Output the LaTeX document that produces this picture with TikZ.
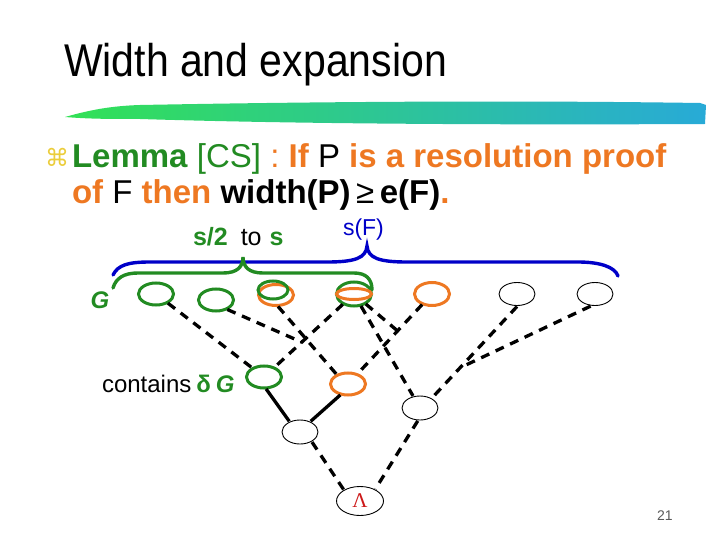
\documentclass[tikz,border=0pt]{standalone}
\usepackage{fontspec}
\setmainfont{Liberation Sans}
\newfontfamily\djv{DejaVu Sans}
\newfontfamily\lserif{Liberation Serif}
\usepackage{graphicx}
\usetikzlibrary{shapes.geometric,calc}
\definecolor{cg}{RGB}{34,139,34}
\definecolor{co}{RGB}{238,120,34}
\definecolor{cb}{RGB}{0,0,200}
\definecolor{cy}{RGB}{235,205,60}
\definecolor{cr}{RGB}{205,25,25}
\definecolor{bga}{RGB}{50,225,85}
\definecolor{bgb}{RGB}{30,205,170}
\definecolor{bgc}{RGB}{40,170,215}
\begin{document}
\begin{tikzpicture}[x=1pt,y=-1pt,
  ell/.style={ellipse, inner sep=0pt, outer sep=1pt},
  gE/.style={ell, draw=cg, line width=3pt, minimum width=35pt, minimum height=22pt},
  oE/.style={ell, draw=co, line width=3pt, minimum width=35pt, minimum height=22pt},
  kE/.style={ell, draw=black, line width=0.9pt, fill=white, minimum width=36pt, minimum height=24pt},
  dl/.style={line width=3.3pt, dash pattern=on 9pt off 7pt},
  sl/.style={line width=3.3pt},
  txt/.style={inner sep=0pt, outer sep=0pt, anchor=base west},
  brace/.style={line width=3.4pt, line cap=round}
]
\useasboundingbox (0,0) rectangle (720,540);

% title and brush stroke
\node[txt] (title) at (64,77) {\scalebox{1}[1.12]{\fontsize{41}{48}\selectfont Width and expansion}};
\shade[left color=bga, middle color=bgb, right color=bgc]
  (65,117) .. controls (90,110) and (110,106) .. (140,105)
  .. controls (300,102) and (500,100) .. (700,103) -- (706,105) -- (705,124)
  .. controls (500,125) and (300,124) .. (140,119)
  .. controls (110,119) and (90,119) .. (65,117) -- cycle;

% lemma text
\node[txt] (bul) at (45,167) {\djv\fontsize{24}{28}\selectfont\color{cy}⌘};
\node[txt] (l1) at (72,168) {\fontsize{33}{40}\selectfont{\color{cg}\textbf{Lemma} [CS]} {\color{co}: \textbf{If}} P {\color{co}\textbf{is a resolution proof}}};
\node[txt] (l2) at (72,204) {\fontsize{33}{40}\selectfont{\color{co}\textbf{of}} F {\color{co}\textbf{then}} \textbf{width(P)}\,≥\,\textbf{e(F)}{\color{co}\textbf{.}}};

% labels
\node[txt] (s2) at (193,245) {\fontsize{25}{28}\selectfont{\color{cg}\textbf{s/2}}\hspace{13pt}to\hspace{8pt}{\color{cg}\textbf{s}}};
\node[txt] (sf) at (343,236) {\fontsize{23}{27}\selectfont\color{cb}s(F)};
\node[inner sep=0pt] (G) at (100,300) {\fontsize{24}{28}\selectfont\color{cg}\textbf{\textit{G}}};
\node[txt] (ct) at (102,392) {\fontsize{24}{28}\selectfont contains\hspace{5pt}{\color{cg}\textbf{δ}\hspace{5pt}\textbf{\textit{G}}}};
\node[txt] (pg) at (657,520) {\fontsize{14}{16}\selectfont\color[gray]{0.35}21};

% braces
\draw[brace, cb] (113,275) .. controls (118,265) and (128,262) .. (150,262) -- (327,262)
  .. controls (355,262) and (366,258) .. (367,246)
  .. controls (368,258) and (379,262) .. (407,262) -- (578,262)
  .. controls (600,262) and (615,267) .. (618,276);
\draw[brace, cg] (113,288) .. controls (116,278) and (124,273) .. (138,273) -- (223,273)
  .. controls (237,273) and (243,267) .. (243,257)
  .. controls (243,267) and (249,273) .. (263,273) -- (354,273)
  .. controls (366,273) and (372,279) .. (372,290);

% top row
\node[gE] (E1) at (156,294) {};
\node[gE] (E2) at (216,300) {};
\node[oE, minimum width=35pt, minimum height=21pt] (E3o) at (276,295) {};
\node[gE, minimum width=30pt, minimum height=18pt] (E3g) at (273,290) {};
\node[gE, minimum height=24pt] (E4g) at (354,294) {};
\node[oE, minimum height=11pt] (E4o) at (354,294) {};
\node[oE, minimum height=23pt] (E5) at (432,294) {};
\node[kE, minimum height=23pt] (E6) at (517,294) {};
\node[kE, minimum height=23pt] (E7) at (595,294) {};

% lower rows
\node[gE] (Gm) at (264,377) {};
\node[oE] (Om) at (348,384) {};
\node[kE] (Bl) at (300,432) {};
\node[kE] (Br) at (420,408) {};
\node[kE, minimum width=47pt, minimum height=29pt] (L) at (360,501) {\lserif\fontsize{21}{24}\selectfont\color{cr}Λ};

% junction points on other connectors
\coordinate (j1) at ($(Gm)!0.42!(E4g)$);
\coordinate (j2) at ($(E5)!0.41!(Om)$);
\coordinate (j3) at ($(E6.south)!0.67!(Br.40)$);

% connectors
\draw[dl] (E1) -- (Gm);
\draw[dl] (E2.-40) -- (j1);
\draw[dl] (E3o.-80) -- (Om.140);
\draw[dl] (E4g) -- (Gm);
\draw[dl] (E4g) -- (Br);
\draw[dl] (E4g) -- (j2);
\draw[dl] (E5) -- (Om);
\draw[dl] (E6.south) -- (Br.40);
\draw[dl] (E7.-110) -- (j3);
\draw[sl] (Gm.-80) -- (Bl.135);
\draw[sl] (Om.-125) -- (Bl.45);
\draw[dl] (Bl.-40) -- (L.145);
\draw[dl] (Br.-100) -- (L.38);
\end{tikzpicture}
\end{document}
